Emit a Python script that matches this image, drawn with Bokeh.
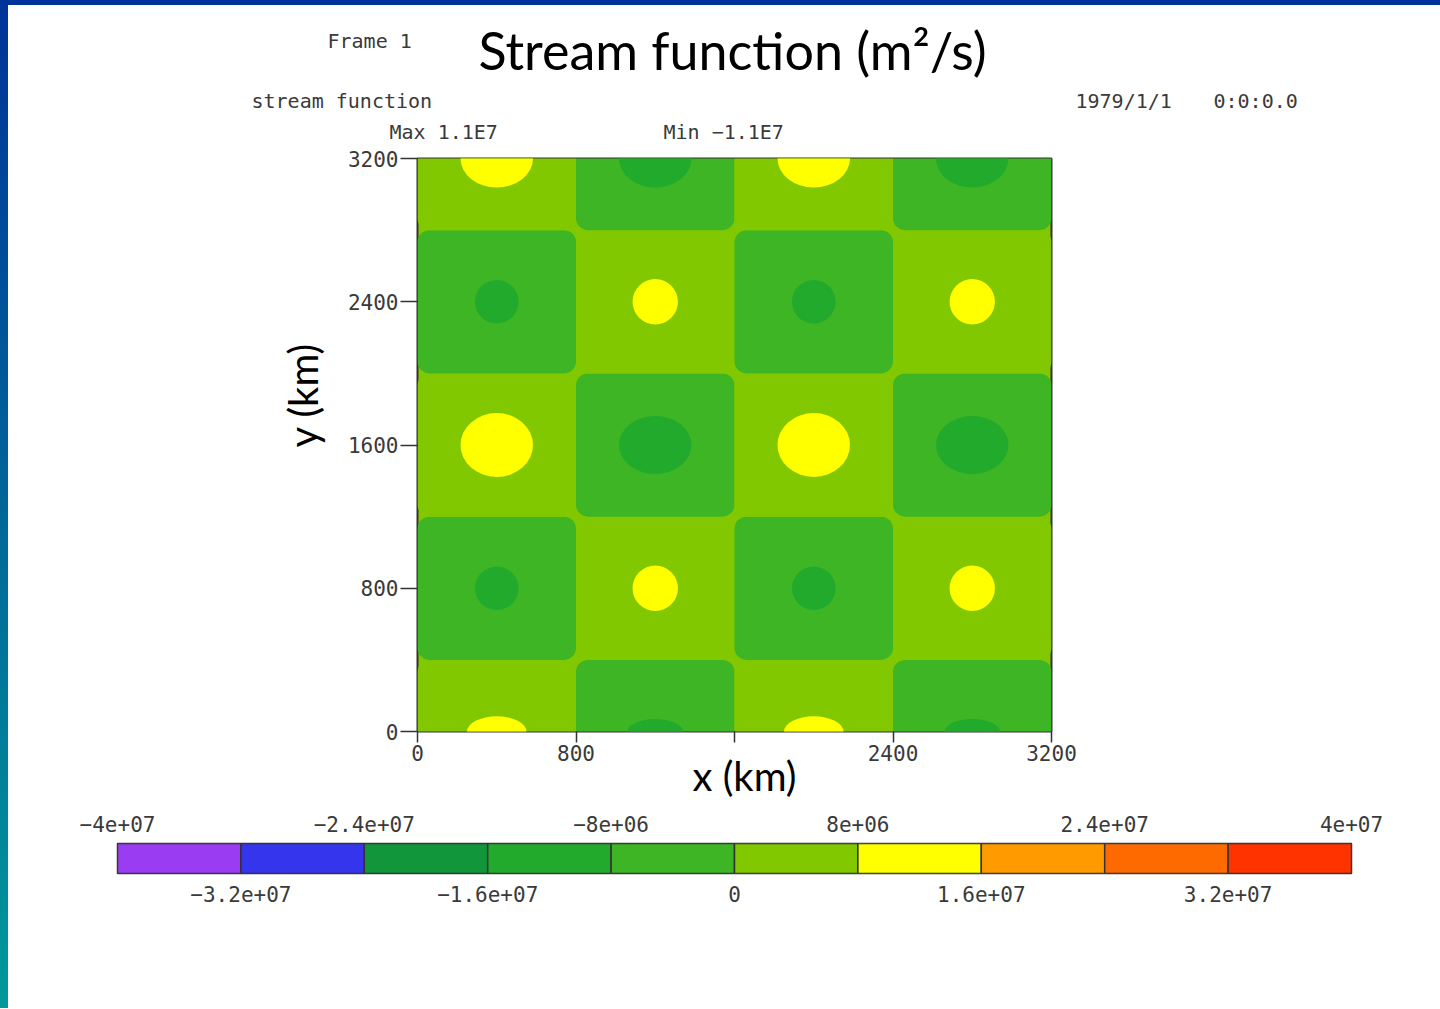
from bokeh.plotting import figure
from bokeh.layouts import column
from bokeh.models import (Range1d, LinearAxis, FixedTicker, LinearColorMapper,
                          ColumnDataSource, Title)
from bokeh.transform import transform
from bokeh.embed import file_html
from bokeh.resources import INLINE
from bokeh.core.properties import value

# ---------------- data ----------------
# contour levels (m^2/s) and fill colours of the bands between them
levels = [-4e7, -3.2e7, -2.4e7, -1.6e7, -8e6, 0, 8e6, 1.6e7, 2.4e7, 3.2e7, 4e7]
level_colors = ["#9a3cf2", "#3535ee", "#11963c", "#22aa2c", "#3db524",
                "#82c800", "#ffff00", "#ff9a00", "#ff6a00", "#ff3300"]

cbar_top_ticks = [-4e7, -2.4e7, -8e6, 8e6, 2.4e7, 4e7]
cbar_top_labels = ["\u22124e+07", "\u22122.4e+07", "\u22128e+06", "8e+06", "2.4e+07", "4e+07"]
cbar_bottom_ticks = [-3.2e7, -1.6e7, 0, 1.6e7, 3.2e7]
cbar_bottom_labels = ["\u22123.2e+07", "\u22121.6e+07", "0", "1.6e+07", "3.2e+07"]

x_ticks = [0, 800, 1600, 2400, 3200]
x_tick_labels = ["0", "800", "", "2400", "3200"]
y_ticks = [0, 800, 1600, 2400, 3200]

# checkerboard cells of the field: edges (km) and psi value inside each cell
col_edges = [0, 800, 1600, 2400, 3200]
row_edges = [-400, 400, 1200, 2000, 2800, 3600]
cell_psi = [  # rows bottom -> top, columns left -> right
    [4e6, -4e6, 4e6, -4e6],
    [-4e6, 4e6, -4e6, 4e6],
    [4e6, -4e6, 4e6, -4e6],
    [-4e6, 4e6, -4e6, 4e6],
    [4e6, -4e6, 4e6, -4e6],
]

# extrema of the field: centre (km), extent of |psi| > 8e6 region (km), psi value
ext_x = [400, 1200, 2000, 2800] * 5
ext_y = [0] * 4 + [800] * 4 + [1600] * 4 + [2400] * 4 + [3200] * 4
ext_psi = [1.1e7, -1.1e7, 1.1e7, -1.1e7,
           -9.5e6, 9.5e6, -9.5e6, 9.5e6,
           1.1e7, -1.1e7, 1.1e7, -1.1e7,
           -9.5e6, 9.5e6, -9.5e6, 9.5e6,
           1.1e7, -1.1e7, 1.1e7, -1.1e7]
ext_w = [300, 280, 300, 280,
         220, 229, 220, 229,
         366, 366, 366, 366,
         220, 229, 220, 229,
         366, 366, 366, 366]
ext_h = [170, 140, 170, 140,
         243, 254, 243, 254,
         357, 324, 357, 324,
         243, 254, 243, 254,
         324, 324, 324, 324]

# header texts
title_text = "Stream function (m\u00b2/s)"
frame_text = "Frame 1"
field_name = "stream function"
date_text = "1979/1/1"
time_text = "0:0:0.0"
max_text = "Max  1.1E7"
min_text = "Min \u22121.1E7"

# ---------------- styling / layout ----------------
MONO = "DejaVu Sans Mono"
TXT = "#3a3a3a"
W = 1432          # canvas width (page has an 8px blue strip on the left)
HH = 140          # header height
MH = 655          # main figure height
BH = 208          # colour bar figure height

mapper = LinearColorMapper(palette=level_colors, low=levels[0], high=levels[-1])

# ---- header with the texts above the plot
h = figure(width=W, height=HH, output_backend="svg", toolbar_location=None,
           x_range=Range1d(0, W), y_range=Range1d(HH, 0),
           min_border=0, x_axis_location=None, y_axis_location=None,
           frame_align=False)
h.grid.visible = False
h.outline_line_color = None
h.background_fill_color = "white"
h.border_fill_color = "white"
h.text(x=[724], y=[44], text=[title_text], text_font=value("Lato"),
       text_font_size="52px", text_color="black", text_align="center",
       text_baseline="middle")
mono_src = ColumnDataSource(dict(
    x=[319, 243, 1067, 1205, 381, 655],
    y=[35, 95, 95, 95, 126, 126],
    t=[frame_text, field_name, date_text, time_text, max_text, min_text]))
h.text(x="x", y="y", text="t", source=mono_src, text_font=value(MONO),
       text_font_size="20px", text_color=TXT, text_align="left",
       text_baseline="middle")

# ---- main contour plot
FL, FW, FT, FH = 409, 634, 13, 573
p = figure(width=W, height=MH, output_backend="svg", toolbar_location=None,
           x_range=Range1d(0, 3200), y_range=Range1d(0, 3200),
           min_border_left=FL, min_border_right=W - FL - FW,
           min_border_top=FT, min_border_bottom=MH - FT - FH,
           frame_align=False)
p.grid.visible = False
p.background_fill_color = level_colors[5]
p.border_fill_color = "white"
p.outline_line_color = "#333333"
p.outline_line_width = 2

cl, cr, cb, ct, cv = [], [], [], [], []
for i in range(len(row_edges) - 1):
    for j in range(len(col_edges) - 1):
        cl.append(col_edges[j]); cr.append(col_edges[j + 1])
        cb.append(row_edges[i]); ct.append(row_edges[i + 1])
        cv.append(cell_psi[i][j])
cells = ColumnDataSource(dict(left=cl, right=cr, bottom=cb, top=ct, psi=cv))
p.quad(left="left", right="right", bottom="bottom", top="top", source=cells,
       fill_color=transform("psi", mapper), line_color=None, border_radius=12)

ext = ColumnDataSource(dict(x=ext_x, y=ext_y, w=ext_w, h=ext_h, psi=ext_psi))
p.ellipse(x="x", y="y", width="w", height="h", source=ext,
          fill_color=transform("psi", mapper), line_color=None)

for ax in (p.xaxis[0], p.yaxis[0]):
    ax.axis_line_color = None
    ax.minor_tick_line_color = None
    ax.major_tick_in = 0
    ax.major_tick_line_color = "#333333"
    ax.major_tick_line_width = 1.5
    ax.major_label_text_font = MONO
    ax.major_label_text_font_size = "21px"
    ax.major_label_text_color = TXT
p.xaxis.ticker = FixedTicker(ticks=x_ticks)
p.xaxis.major_label_overrides = {t: l for t, l in zip(x_ticks, x_tick_labels)}
p.xaxis.major_tick_out = 11
p.xaxis.major_label_standoff = 2
p.yaxis.ticker = FixedTicker(ticks=y_ticks)
p.yaxis.major_tick_out = 17
p.yaxis.major_label_standoff = 2

p.add_layout(Title(text="x (km)", align="left", offset=275, standoff=-28,
                   text_font="Lato", text_font_size="40px",
                   text_font_style="normal", text_color="black"), "below")
p.add_layout(Title(text="y (km)", align="left", offset=284, standoff=35,
                   text_font="Lato", text_font_size="40px",
                   text_font_style="normal", text_color="black"), "left")

# ---- colour bar
CL, CW, CT, CH = 109, 1234, 43, 30
c = figure(width=W, height=BH, output_backend="svg", toolbar_location=None,
           x_range=Range1d(levels[0], levels[-1]), y_range=Range1d(0, 1),
           min_border_left=CL, min_border_right=W - CL - CW,
           min_border_top=CT, min_border_bottom=BH - CT - CH,
           x_axis_location=None, y_axis_location=None, frame_align=False)
c.grid.visible = False
c.outline_line_color = "#333333"
c.outline_line_width = 1.5
c.border_fill_color = "white"
bands = ColumnDataSource(dict(left=levels[:-1], right=levels[1:],
                              mid=[(a + b) / 2 for a, b in zip(levels[:-1], levels[1:])]))
c.quad(left="left", right="right", bottom=0, top=1, source=bands,
       fill_color=transform("mid", mapper), line_color="#333333", line_width=1.5)

for ticks, labels, place in ((cbar_top_ticks, cbar_top_labels, "above"),
                             (cbar_bottom_ticks, cbar_bottom_labels, "below")):
    ax = LinearAxis(ticker=FixedTicker(ticks=ticks),
                    major_label_overrides={t: l for t, l in zip(ticks, labels)})
    ax.axis_line_color = None
    ax.major_tick_line_color = None
    ax.minor_tick_line_color = None
    ax.major_label_text_font = MONO
    ax.major_label_text_font_size = "21px"
    ax.major_label_text_color = TXT
    ax.major_label_standoff = 6
    c.add_layout(ax, place)

bg = ("linear-gradient(to bottom, #003399 0px, #003399 5px, rgba(0,0,0,0) 5px), "
      "linear-gradient(to right, rgba(0,0,0,0) 8px, #ffffff 8px), "
      "linear-gradient(to bottom, #003399, #00999a)")
layout = column(h, p, c, spacing=0,
                styles={"padding-left": "8px", "padding-top": "5px", "background": bg})
open("out.html", "w").write(file_html(layout, INLINE))
